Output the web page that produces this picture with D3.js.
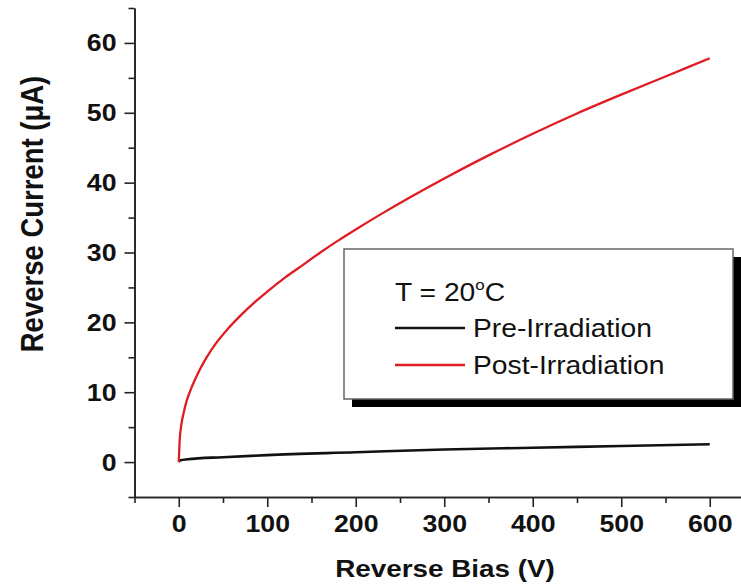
<!DOCTYPE html>
<html>
<head>
<meta charset="utf-8">
<script src="https://cdn.jsdelivr.net/npm/d3@7"></script>
<style>
  html, body { margin: 0; padding: 0; background: #fff; }
  svg { display: block; }
  text { font-family: "Liberation Sans", Arial, Helvetica, sans-serif; fill: #111; }
</style>
</head>
<body>
<svg id="chart" width="741" height="588"></svg>
<script>
// Reverse bias sweep (V) and measured reverse current (µA)
const biasPre  = [0, 2, 10, 50, 100, 200, 300, 400, 500, 600];
const currPre  = [0, 0.25, 0.4, 0.7, 1.0, 1.4, 1.8, 2.05, 2.3, 2.55];

const biasPost = [0, 1, 3, 6, 9, 13, 18, 24, 32, 42, 55, 70, 85, 100, 120, 140, 160, 180, 200, 230, 260, 300, 350, 400, 450, 500, 550, 600];
const currPost = [0, 3.0, 5.4, 7.3, 8.8, 10.2, 11.7, 13.3, 15.1, 17.0, 19.0, 21.0, 22.8, 24.4, 26.4, 28.2, 30.0, 31.7, 33.3, 35.6, 37.8, 40.6, 43.9, 47.0, 49.9, 52.6, 55.2, 57.8];

const xMajor = [0, 100, 200, 300, 400, 500, 600];
const xMinor = [-50, 50, 150, 250, 350, 450, 550, 650];
const yMajor = [0, 10, 20, 30, 40, 50, 60];
const yMinor = [-5, 5, 15, 25, 35, 45, 55, 65];

const seriesNames  = ["Pre-Irradiation", "Post-Irradiation"];
const seriesColors = ["#111111", "#e01b22"];

const SX = 1.16; // horizontal widening of glyphs

const svg = d3.select("#chart");
const x = d3.scaleLinear().domain([-50, 650]).range([134.5, 754]);
const y = d3.scaleLinear().domain([-5, 65]).range([497, 8]);

// axes
const axisColor = "#222";
function styleAxis(g) {
  g.select(".domain").attr("stroke", axisColor).attr("stroke-width", 1.6);
  g.selectAll(".tick line").attr("stroke", axisColor).attr("stroke-width", 1.6);
}

svg.append("g").attr("transform", `translate(0,${y(-5)})`)
  .call(d3.axisBottom(x).tickValues(xMinor).tickSize(6).tickSizeOuter(0).tickFormat(""))
  .call(styleAxis);
const xG = svg.append("g").attr("transform", `translate(0,${y(-5)})`)
  .call(d3.axisBottom(x).tickValues(xMajor).tickSize(10).tickSizeOuter(0).tickFormat(d3.format("d")))
  .call(styleAxis);
svg.append("g").attr("transform", `translate(${x(-50)},0)`)
  .call(d3.axisLeft(y).tickValues(yMinor).tickSize(6).tickSizeOuter(0).tickFormat(""))
  .call(styleAxis);
const yG = svg.append("g").attr("transform", `translate(${x(-50)},0)`)
  .call(d3.axisLeft(y).tickValues(yMajor).tickSize(10).tickSizeOuter(0).tickPadding(7).tickFormat(d3.format("d")))
  .call(styleAxis);

// tick labels: bold, widened
const tickFont = t => t.style("font-size", "23px").style("font-weight", "bold")
  .style("font-family", '"Liberation Sans", Arial, sans-serif').attr("fill", "#111");
xG.selectAll(".tick text").each(function() {
  const t = d3.select(this);
  t.attr("y", null).attr("dy", null)
   .attr("transform", `translate(0,35) scale(${SX},1)`)
   .attr("text-anchor", "middle")
   .call(tickFont);
});
yG.selectAll(".tick text").each(function() {
  const t = d3.select(this);
  const tx = +t.attr("x");
  t.attr("x", null).attr("dy", null)
   .attr("transform", `translate(${tx - 1},8) scale(${SX},1)`)
   .attr("text-anchor", "end")
   .call(tickFont);
});

// axis titles
svg.append("text")
  .attr("transform", `translate(445,577) scale(${SX},1)`)
  .attr("text-anchor", "middle")
  .style("font-size", "24px").style("font-weight", "bold")
  .text("Reverse Bias (V)");

svg.append("text")
  .attr("transform", `translate(43,214) rotate(-90) scale(1,${SX})`)
  .attr("text-anchor", "middle")
  .style("font-size", "27.5px").style("font-weight", "bold")
  .text("Reverse Current (\u03BCA)");

// curves
const line = d3.line().x(d => x(d[0])).y(d => y(d[1])).curve(d3.curveMonotoneX);
const series = [d3.zip(biasPre, currPre), d3.zip(biasPost, currPost)];
svg.append("g").selectAll("path").data(series).join("path")
  .attr("d", line)
  .attr("fill", "none")
  .attr("stroke", (d, i) => seriesColors[i])
  .attr("stroke-width", (d, i) => i === 0 ? 2.6 : 2.3)
  .attr("stroke-linejoin", "round");

// legend with drop shadow
const lg = svg.append("g");
lg.append("rect").attr("x", 352).attr("y", 257).attr("width", 389).attr("height", 150).attr("fill", "#000");
lg.append("rect").attr("x", 344).attr("y", 249).attr("width", 389).attr("height", 150)
  .attr("fill", "#fff").attr("stroke", "#666").attr("stroke-width", 1.5);

const legFont = "25px";
const tl = lg.append("text")
  .attr("transform", `translate(395,301) scale(${SX - 0.03},1)`)
  .style("font-size", legFont);
tl.append("tspan").text("T = 20");
tl.append("tspan").attr("dy", -11).style("font-size", "15px").text("o");
tl.append("tspan").attr("dy", 11).text("C");

const legRows = [328, 365];
seriesNames.forEach((name, i) => {
  lg.append("line")
    .attr("x1", 395).attr("x2", 465)
    .attr("y1", legRows[i]).attr("y2", legRows[i])
    .attr("stroke", seriesColors[i]).attr("stroke-width", i === 0 ? 2.6 : 2.3);
  lg.append("text")
    .attr("transform", `translate(473,${legRows[i] + 9}) scale(${SX - 0.03},1)`)
    .style("font-size", legFont)
    .text(name);
});
</script>
</body>
</html>
